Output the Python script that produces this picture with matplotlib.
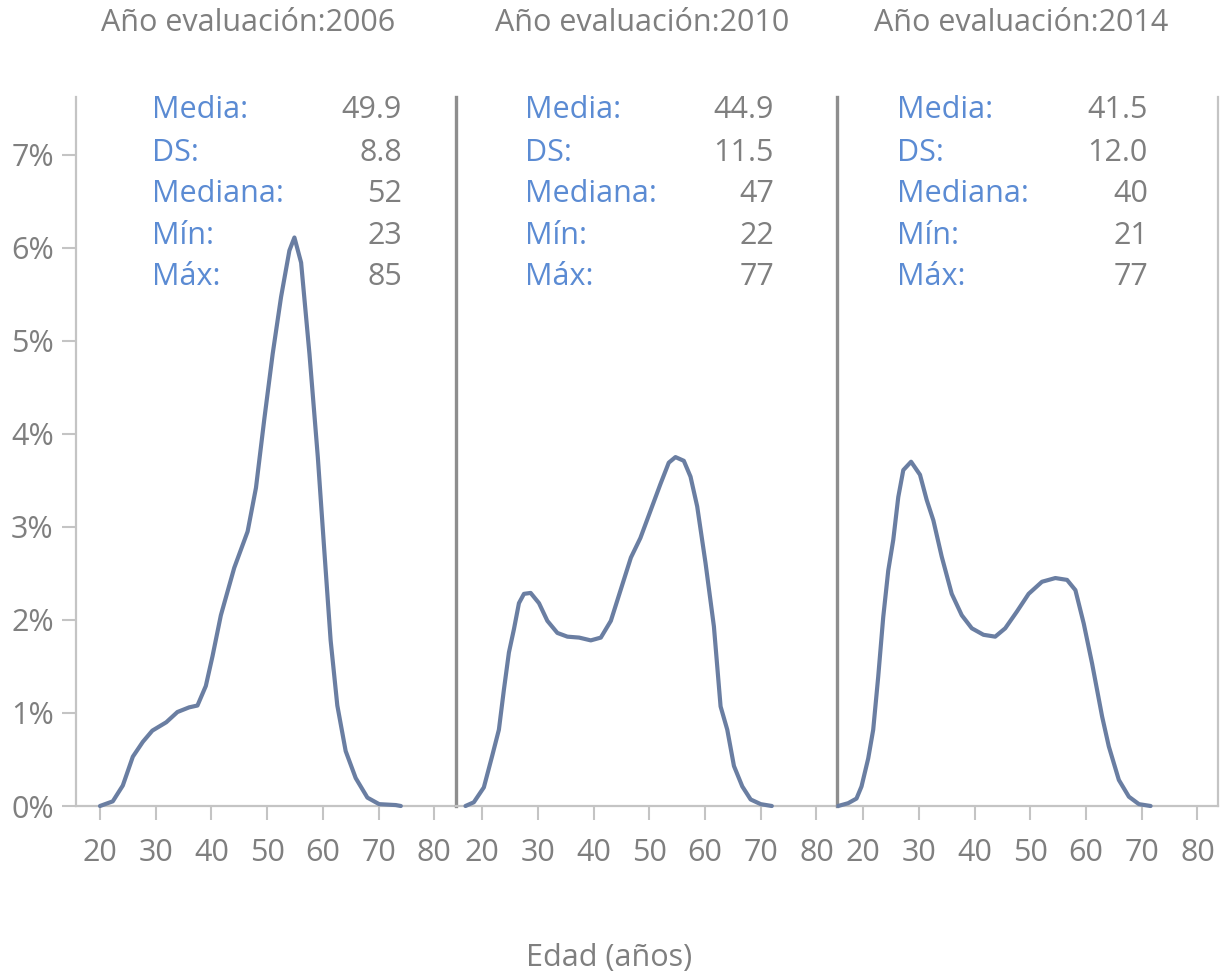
import numpy as np
from matplotlib import pyplot as plt

plt.rcParams['font.family'] = ['Open Sans', 'DejaVu Sans']

# curve data: age (years) and share (%)
years = ['2006', '2010', '2014']

age_2006 = [20, 22.3, 24.1, 25.9, 27.7, 29.4, 31.9, 33.9, 36.0, 37.5, 39.0, 40.2, 41.7,
            44.1, 46.5, 48.0, 49.5, 51.0, 52.5, 54.0, 54.9, 56.1, 57.6, 59.1, 60.2,
            61.4, 62.6, 64.1, 65.9, 68.0, 70.1, 73.1, 74.0]
pct_2006 = [0.0, 0.05, 0.22, 0.53, 0.69, 0.81, 0.90, 1.01, 1.06, 1.08, 1.29, 1.61, 2.05,
            2.56, 2.95, 3.42, 4.16, 4.86, 5.47, 5.97, 6.11, 5.84, 4.86, 3.75, 2.80,
            1.78, 1.08, 0.59, 0.30, 0.09, 0.02, 0.01, 0.0]

age_2010 = [17.0, 18.5, 20.3, 21.8, 23.0, 23.9, 24.8, 25.7, 26.6, 27.5, 28.7, 30.2, 31.7,
            33.5, 35.3, 37.4, 39.5, 41.3, 43.1, 44.9, 46.7, 48.4, 50.2, 52.0, 53.5,
            54.7, 56.2, 57.4, 58.6, 60.1, 61.6, 62.8, 64.0, 65.2, 66.7, 68.2, 70.0, 72.0]
pct_2010 = [0.0, 0.04, 0.20, 0.54, 0.82, 1.25, 1.65, 1.90, 2.18, 2.28, 2.29, 2.18, 1.99,
            1.86, 1.82, 1.81, 1.78, 1.81, 1.99, 2.33, 2.67, 2.88, 3.17, 3.46, 3.69,
            3.75, 3.71, 3.54, 3.22, 2.61, 1.93, 1.07, 0.82, 0.43, 0.21, 0.07, 0.02, 0.0]

age_2014 = [15.5, 17.3, 18.8, 19.7, 20.9, 21.8, 22.7, 23.6, 24.5, 25.4, 26.3, 27.2, 28.6,
            30.2, 31.4, 32.6, 34.1, 35.9, 37.7, 39.5, 41.6, 43.7, 45.5, 47.6, 49.7,
            52.1, 54.5, 56.6, 58.1, 59.6, 61.1, 62.9, 64.1, 65.9, 67.7, 69.5, 71.6]
pct_2014 = [0.0, 0.03, 0.08, 0.21, 0.51, 0.82, 1.39, 2.03, 2.53, 2.86, 3.32, 3.61, 3.70,
            3.56, 3.29, 3.07, 2.68, 2.28, 2.05, 1.91, 1.84, 1.82, 1.91, 2.09, 2.28,
            2.41, 2.45, 2.43, 2.32, 1.96, 1.53, 0.96, 0.64, 0.28, 0.10, 0.02, 0.0]

stat_names = ['Media:', 'DS:', 'Mediana:', 'Mín:', 'Máx:']
stat_values = [['49.9', '8.8', '52', '23', '85'],
               ['44.9', '11.5', '47', '22', '77'],
               ['41.5', '12.0', '40', '21', '77']]

x_ticks = [20, 30, 40, 50, 60, 70, 80]
y_ticks = [0, 1, 2, 3, 4, 5, 6, 7]


def main():
    ages = [age_2006, age_2010, age_2014]
    pcts = [pct_2006, pct_2010, pct_2014]

    gray_txt = '#7f7f7f'
    blue_txt = '#5b8bd3'
    line_col = '#6a7ea2'
    light = '#c4c4c4'
    dark = '#8e8e8e'
    fs = 22

    fig = plt.figure(figsize=(12.32, 9.74), dpi=100)
    # panel positions in pixels (left, right), all share top/bottom
    px = [(76, 456), (456, 837), (837, 1218)]
    xlims = [(15.7, 83.9), (15.3, 83.7), (15.3, 83.7)]
    title_x = [0.453, 0.488, 0.483]
    lab_x = [0.20, 0.181, 0.157]
    val_x = [0.858, 0.835, 0.816]
    row_y = [110, 153, 194, 236, 277]
    top, bottom = 97, 806

    for i in range(3):
        l, r = px[i]
        ax = fig.add_axes([l / 1232, 1 - bottom / 974, (r - l) / 1232, (bottom - top) / 974])
        ax.plot(ages[i], pcts[i], color=line_col, lw=3.0, solid_capstyle='round',
                solid_joinstyle='round', zorder=3, clip_on=False)
        ax.set_xlim(*xlims[i])
        ax.set_ylim(0, 7.62)
        ax.set_xticks(x_ticks)
        ax.set_xticklabels([str(t) for t in x_ticks])
        ax.tick_params(axis='x', length=10, width=1.5, color=light, pad=13,
                       labelsize=fs, labelcolor=gray_txt)

        ax.spines['top'].set_visible(False)
        ax.spines['bottom'].set_color(light)
        ax.spines['bottom'].set_linewidth(1.6)
        ax.spines['right'].set_visible(i == 2)
        ax.spines['right'].set_color(light)
        ax.spines['right'].set_linewidth(1.6)
        if i == 0:
            ax.spines['left'].set_color(light)
            ax.spines['left'].set_linewidth(1.6)
            ax.set_yticks(y_ticks)
            ax.set_yticklabels([f'{t}%' for t in y_ticks])
            ax.tick_params(axis='y', length=10, width=1.5, color=light, pad=6,
                           labelsize=fs, labelcolor=gray_txt)
        else:
            ax.spines['left'].set_color(dark)
            ax.spines['left'].set_linewidth(2.4)
            ax.set_yticks([])

        ax.text(title_x[i], (bottom - 23) / (bottom - top), 'Año evaluación:' + years[i],
                transform=ax.transAxes, ha='center', va='center', fontsize=fs, color=gray_txt)

        for k in range(5):
            yf = (bottom - row_y[k]) / (bottom - top)
            ax.text(lab_x[i], yf, stat_names[k], transform=ax.transAxes, ha='left',
                    va='center', fontsize=fs, color=blue_txt)
            ax.text(val_x[i], yf, stat_values[i][k], transform=ax.transAxes, ha='right',
                    va='center', fontsize=fs, color=gray_txt)

    fig.text(609 / 1232, 1 - 958 / 974, 'Edad (años)', ha='center', va='center',
             fontsize=fs, color=gray_txt)

    fig.savefig('out.png', dpi=100, facecolor='white')


if __name__ == "__main__":
    main()
